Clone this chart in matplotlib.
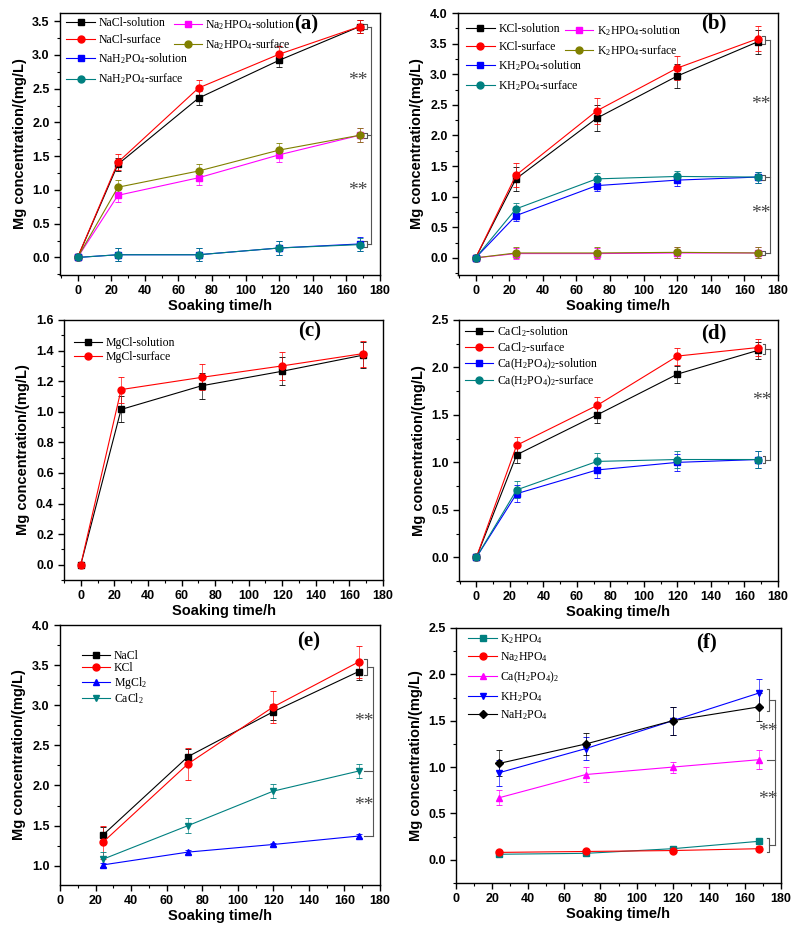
import matplotlib
matplotlib.use("Agg")
import matplotlib.pyplot as plt
from matplotlib.ticker import MultipleLocator, AutoMinorLocator, FormatStrFormatter

# ---- data -------------------------------------------------------------
t_full = [0, 24, 72, 120, 168]
t_late = [24, 72, 120, 168]

# (a) sodium salts
nacl_sol = [0, 1.38, 2.36, 2.92, 3.42]
nacl_surf = [0, 1.41, 2.51, 3.01, 3.42]
na2hpo4_sol = [0, 0.92, 1.18, 1.52, 1.81]
na2hpo4_surf = [0, 1.04, 1.28, 1.59, 1.81]
nah2po4_sol = [0, 0.04, 0.04, 0.14, 0.20]
nah2po4_surf = [0, 0.04, 0.04, 0.14, 0.19]
err_a = [0, 0.10, 0.10, 0.10, 0.10]
err_a_surf = [0, 0.12, 0.12, 0.12, 0.10]

# (b) potassium salts
kcl_sol = [0, 1.29, 2.28, 2.97, 3.53]
kcl_surf = [0, 1.35, 2.40, 3.10, 3.58]
k2hpo4_sol = [0, 0.07, 0.07, 0.08, 0.08]
k2hpo4_surf = [0, 0.08, 0.08, 0.09, 0.08]
kh2po4_sol = [0, 0.69, 1.18, 1.27, 1.32]
kh2po4_surf = [0, 0.80, 1.29, 1.33, 1.32]
err_kcl = [0, 0.20, 0.21, 0.20, 0.20]
err_b = [0, 0.09, 0.09, 0.09, 0.09]

# (c) magnesium chloride
mgcl_sol = [0, 1.015, 1.17, 1.265, 1.37]
mgcl_surf = [0, 1.145, 1.225, 1.30, 1.38]
err_c = [0, 0.085, 0.085, 0.09, 0.085]

# (d) calcium salts
cacl2_sol = [0, 1.08, 1.50, 1.93, 2.18]
cacl2_surf = [0, 1.18, 1.60, 2.12, 2.21]
cah2po4_sol = [0, 0.67, 0.92, 1.00, 1.03]
cah2po4_surf = [0, 0.71, 1.01, 1.03, 1.03]
err_d = [0, 0.09, 0.09, 0.09, 0.09]

# (e) chlorides
e_nacl = [1.38, 2.36, 2.92, 3.42]
e_kcl = [1.29, 2.27, 2.98, 3.54]
e_mgcl2 = [1.01, 1.17, 1.265, 1.37]
e_cacl2 = [1.08, 1.50, 1.93, 2.18]
err_e_nacl = [0.10, 0.10, 0.10, 0.10]
err_e_kcl = [0.20, 0.20, 0.20, 0.20]
err_e_mg = [0.02, 0.02, 0.02, 0.02]
err_e_ca = [0.09, 0.09, 0.09, 0.09]

# (f) phosphates
f_k2hpo4 = [0.06, 0.07, 0.12, 0.20]
f_na2hpo4 = [0.08, 0.09, 0.10, 0.12]
f_cah2po4 = [0.67, 0.92, 1.00, 1.08]
f_kh2po4 = [0.94, 1.20, 1.50, 1.80]
f_nah2po4 = [1.04, 1.25, 1.50, 1.65]
err_f_low = [0.03, 0.03, 0.03, 0.03]
err_f_ca = [0.08, 0.08, 0.06, 0.10]
err_f_hi = [0.14, 0.12, 0.15, 0.15]

# ---- style -------------------------------------------------------------
plt.rcParams["font.family"] = ["Liberation Sans", "DejaVu Sans"]
plt.rcParams["mathtext.fontset"] = "custom"
plt.rcParams["mathtext.rm"] = "Liberation Serif"
plt.rcParams["mathtext.it"] = "Liberation Serif:italic"
plt.rcParams["mathtext.bf"] = "Liberation Serif:bold"
plt.rcParams["mathtext.default"] = "rm"
SERIF = ["Liberation Serif", "DejaVu Serif"]
OLIVE = "#808000"
TEAL = "#008080"
MAG = "#ff00ff"

fig = plt.figure(figsize=(8, 9.32), dpi=100)
W, H = 800, 932


def make_ax(l, r, t, b):
    return fig.add_axes([l / W, (H - b) / H, (r - l) / W, (b - t) / H])


def style_ax(ax, xlim, ylim, ystep, label, lpos):
    ax.set_xlim(*xlim)
    ax.set_ylim(*ylim)
    ax.xaxis.set_major_locator(MultipleLocator(20))
    ax.xaxis.set_minor_locator(MultipleLocator(10))
    ax.yaxis.set_major_locator(MultipleLocator(ystep))
    ax.yaxis.set_minor_locator(AutoMinorLocator(2))
    ax.yaxis.set_major_formatter(FormatStrFormatter("%.1f"))
    ax.tick_params(which="major", direction="out", length=4, width=1, labelsize=9)
    ax.tick_params(which="minor", direction="out", length=2, width=0.8)
    for lab in ax.get_xticklabels() + ax.get_yticklabels():
        lab.set_fontweight("bold")
    for sp in ax.spines.values():
        sp.set_linewidth(1.0)
    ax.set_xlabel("Soaking time/h", fontsize=10.5, fontweight="bold", labelpad=1)
    ax.set_ylabel("Mg concentration/(mg/L)", fontsize=10.5, fontweight="bold", labelpad=4)
    ax.text(lpos[0], lpos[1], label, transform=ax.transAxes, ha="center", va="center",
            fontsize=15, fontweight="bold", family=SERIF)


def series(ax, x, y, err, color, marker, label, ms=5):
    c = ax.errorbar(x, y, yerr=err, color=color, marker=marker, ms=ms, lw=0.8,
                    elinewidth=0.6, capsize=2, capthick=0.6, ecolor=color,
                    label=label)
    for art in c[2]:
        art.set_alpha(0.75)
    return c[0]


def legend(ax, handles, labels, x, y, fs=8.5, spacing=0.45):
    lg = ax.legend(handles, labels, loc="upper left", bbox_to_anchor=(x, y),
                   frameon=False, handlelength=2.4, handletextpad=0.3,
                   labelspacing=spacing, borderpad=0, borderaxespad=0,
                   prop={"family": SERIF, "size": fs})
    ax.legend_ = None  # keep only as a plain artist so it is drawn once
    ax.add_artist(lg)
    return lg


def bracket(ax, spans, ticks, xb=172.5, xv=175.5, arm=1.5, pad=0.04):
    gray = "#555555"
    ys = []
    for lo, hi in spans:
        lo, hi = min(lo, hi) - pad, max(lo, hi) + pad
        ax.plot([xb - arm, xb, xb, xb - arm], [lo, lo, hi, hi], color=gray, lw=0.8, clip_on=False)
        mid = (lo + hi) / 2
        ax.plot([xb, xv], [mid, mid], color=gray, lw=0.8, clip_on=False)
        ys.append(mid)
    for y in ticks:
        ax.plot([xb - arm, xv], [y, y], color=gray, lw=0.8, clip_on=False)
        ys.append(y)
    ax.plot([xv, xv], [min(ys), max(ys)], color=gray, lw=0.8, clip_on=False)


def stars(ax, x, ys):
    for y in ys:
        ax.text(x, y, "**", ha="center", va="center", fontsize=14, color="#444444",
                family=SERIF)


# ---- (a) -------------------------------------------------------------
ax = make_ax(60, 380, 13, 275)
h1 = series(ax, t_full, nacl_sol, err_a, "black", "s", "NaCl-solution")
h2 = series(ax, t_full, nacl_surf, err_a_surf, "red", "o", "NaCl-surface")
h3 = series(ax, t_full, na2hpo4_sol, err_a, MAG, "s", "Na$_2$HPO$_4$-solution")
h4 = series(ax, t_full, na2hpo4_surf, err_a, OLIVE, "o", "Na$_2$HPO$_4$-surface")
h5 = series(ax, t_full, nah2po4_sol, err_a, "blue", "s", "NaH$_2$PO$_4$-solution")
h6 = series(ax, t_full, nah2po4_surf, err_a, TEAL, "o", "NaH$_2$PO$_4$-surface")
style_ax(ax, (-10.5, 180), (-0.26, 3.62), 0.5, "(a)", (0.77, 0.955))
legend(ax, [h1, h2, h5, h6], ["NaCl-solution", "NaCl-surface", "NaH$_2$PO$_4$-solution",
                              "NaH$_2$PO$_4$-surface"], 0.02, 0.985)
legend(ax, [h3, h4], ["Na$_2$HPO$_4$-solution", "Na$_2$HPO$_4$-surface"], 0.355, 0.985)
bracket(ax, [(nacl_sol[-1], nacl_surf[-1]), (na2hpo4_sol[-1], na2hpo4_surf[-1]),
             (nah2po4_sol[-1], nah2po4_surf[-1])], [], xb=172, xv=174.5)
stars(ax, 167, [2.62, 0.99])

# ---- (b) -------------------------------------------------------------
ax = make_ax(458, 778, 13, 275)
h1 = series(ax, t_full, kcl_sol, err_kcl, "black", "s", "KCl-solution")
h2 = series(ax, t_full, kcl_surf, err_kcl, "red", "o", "KCl-surface")
h3 = series(ax, t_full, k2hpo4_sol, err_b, MAG, "s", "K$_2$HPO$_4$-solution")
h4 = series(ax, t_full, k2hpo4_surf, err_b, OLIVE, "o", "K$_2$HPO$_4$-surface")
h5 = series(ax, t_full, kh2po4_sol, err_b, "blue", "s", "KH$_2$PO$_4$-solution")
h6 = series(ax, t_full, kh2po4_surf, err_b, TEAL, "o", "KH$_2$PO$_4$-surface")
style_ax(ax, (-10.5, 180), (-0.28, 4.0), 0.5, "(b)", (0.80, 0.96))
legend(ax, [h1, h2, h5, h6], ["KCl-solution", "KCl-surface", "KH$_2$PO$_4$-solution",
                              "KH$_2$PO$_4$-surface"], 0.026, 0.96)
legend(ax, [h3, h4], ["K$_2$HPO$_4$-solution", "K$_2$HPO$_4$-surface"], 0.334, 0.96)
bracket(ax, [(kcl_sol[-1], kcl_surf[-1]), (kh2po4_sol[-1], kh2po4_surf[-1]),
             (k2hpo4_sol[-1], k2hpo4_surf[-1])], [], xb=172, xv=175)
stars(ax, 170, [2.5, 0.72])

# ---- (c) -------------------------------------------------------------
ax = make_ax(64, 383, 320, 580)
h1 = series(ax, t_full, mgcl_sol, err_c, "black", "s", "MgCl-solution")
h2 = series(ax, t_full, mgcl_surf, err_c, "red", "o", "MgCl-surface")
style_ax(ax, (-10, 180), (-0.1, 1.6), 0.2, "(c)", (0.77, 0.955))
legend(ax, [h1, h2], ["MgCl-solution", "MgCl-surface"], 0.03, 0.935, spacing=0.2)

# ---- (d) -------------------------------------------------------------
ax = make_ax(459, 778, 320, 581)
h1 = series(ax, t_full, cacl2_sol, err_d, "black", "s", "CaCl$_2$-solution")
h2 = series(ax, t_full, cacl2_surf, err_d, "red", "o", "CaCl$_2$-surface")
h3 = series(ax, t_full, cah2po4_sol, err_d, "blue", "s", "Ca(H$_2$PO$_4$)$_2$-solution")
h4 = series(ax, t_full, cah2po4_surf, err_d, TEAL, "o", "Ca(H$_2$PO$_4$)$_2$-surface")
style_ax(ax, (-10.4, 180), (-0.25, 2.5), 0.5, "(d)", (0.80, 0.95))
legend(ax, [h1, h2, h3, h4], ["CaCl$_2$-solution", "CaCl$_2$-surface",
                              "Ca(H$_2$PO$_4$)$_2$-solution", "Ca(H$_2$PO$_4$)$_2$-surface"],
       0.018, 0.985, spacing=0.12)
bracket(ax, [(cacl2_sol[-1], cacl2_surf[-1]), (cah2po4_sol[-1], cah2po4_surf[-1])], [],
        xb=172.5, xv=175)
stars(ax, 170.6, [1.65])

# ---- (e) -------------------------------------------------------------
ax = make_ax(60, 380, 625, 885)
h1 = series(ax, t_late, e_nacl, err_e_nacl, "black", "s", "NaCl")
h2 = series(ax, t_late, e_kcl, err_e_kcl, "red", "o", "KCl")
h3 = series(ax, t_late, e_mgcl2, err_e_mg, "blue", "^", "MgCl$_2$")
h4 = series(ax, t_late, e_cacl2, err_e_ca, TEAL, "v", "CaCl$_2$")
style_ax(ax, (0, 180), (0.76, 4.0), 0.5, "(e)", (0.776, 0.936))
legend(ax, [h1, h2, h3, h4], ["NaCl", "KCl", "MgCl$_2$", "CaCl$_2$"], 0.068, 0.905,
       spacing=0.05)
bracket(ax, [(e_nacl[-1], e_kcl[-1])], [e_cacl2[-1], e_mgcl2[-1]], xb=172.5, xv=176)
stars(ax, 171, [2.8, 1.75])

# ---- (f) -------------------------------------------------------------
ax = make_ax(456, 781, 628, 883)
h1 = series(ax, t_late, f_k2hpo4, err_f_low, TEAL, "s", "K$_2$HPO$_4$")
h2 = series(ax, t_late, f_na2hpo4, err_f_low, "red", "o", "Na$_2$HPO$_4$")
h3 = series(ax, t_late, f_cah2po4, err_f_ca, MAG, "^", "Ca(H$_2$PO$_4$)$_2$")
h4 = series(ax, t_late, f_kh2po4, err_f_hi, "blue", "v", "KH$_2$PO$_4$")
h5 = series(ax, t_late, f_nah2po4, err_f_hi, "black", "D", "NaH$_2$PO$_4$", ms=4.5)
style_ax(ax, (0, 180), (-0.25, 2.5), 0.5, "(f)", (0.77, 0.945))
legend(ax, [h1, h2, h3, h4, h5], ["K$_2$HPO$_4$", "Na$_2$HPO$_4$", "Ca(H$_2$PO$_4$)$_2$",
                                  "KH$_2$PO$_4$", "NaH$_2$PO$_4$"], 0.038, 0.985, spacing=0.42)
bracket(ax, [(f_nah2po4[-1], f_kh2po4[-1]), (f_na2hpo4[-1], f_k2hpo4[-1])],
        [f_cah2po4[-1]], xb=173.5, xv=176.5)
stars(ax, 172.5, [1.38, 0.65])

fig.savefig("out.png", dpi=100)
